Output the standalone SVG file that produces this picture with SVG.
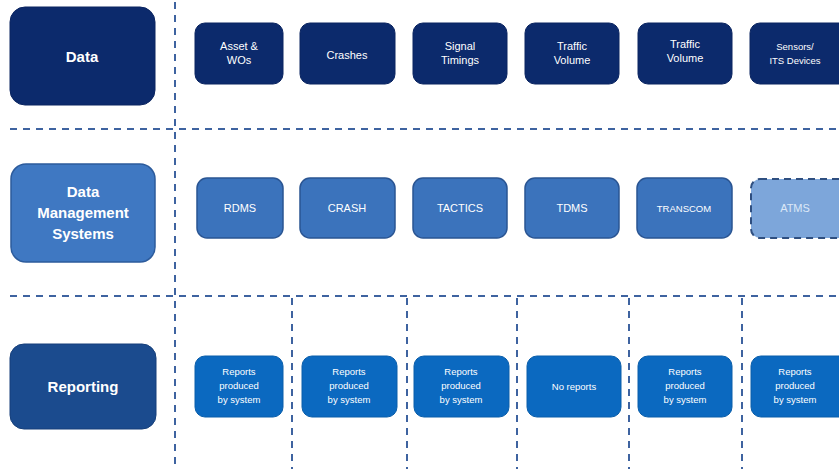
<svg xmlns="http://www.w3.org/2000/svg" width="839" height="469" viewBox="0 0 839 469">
  <style>
    .bg { fill: #ffffff; }
    .sep { stroke: #3e63a0; stroke-width: 2; stroke-dasharray: 7 6; fill: none; }
    .lbl-data { fill: #0c2a6c; stroke: #0a2460; stroke-width: 1; }
    .lbl-dms { fill: #3f78c2; stroke: #2c5b9c; stroke-width: 1.5; }
    .lbl-rep { fill: #1b4b8e; stroke: #163f7a; stroke-width: 1; }
    .n-data { fill: #0c2a6c; stroke: #0a2460; stroke-width: 1; }
    .n-dms { fill: #3b73bc; stroke: #2a5593; stroke-width: 1.5; }
    .n-dms-plan { fill: #7da6da; stroke: #2f4f80; stroke-width: 2; stroke-dasharray: 7 5; }
    .n-rep { fill: #0b69c0; stroke: #0a5eaa; stroke-width: 1; }
    text { font-family: "Liberation Sans", Arial, sans-serif; fill: #ffffff; text-anchor: middle; }
    .big { font-size: 15px; font-weight: bold; }
    .sm { font-size: 11px; }
    .xs { font-size: 9.5px; }
    .plan { fill: #dce8f7; }
  </style>
  <rect class="bg" x="0" y="0" width="839" height="469"/>

  <!-- lane separators -->
  <g id="connectors">
    <line class="sep" x1="10" y1="129" x2="839" y2="129"/>
    <line class="sep" x1="10" y1="296" x2="839" y2="296"/>
    <line class="sep" x1="175" y1="2" x2="175" y2="469"/>
    <line class="sep" x1="292" y1="298" x2="292" y2="469"/>
    <line class="sep" x1="407" y1="298" x2="407" y2="469"/>
    <line class="sep" x1="517" y1="298" x2="517" y2="469"/>
    <line class="sep" x1="629" y1="298" x2="629" y2="469"/>
    <line class="sep" x1="742" y1="298" x2="742" y2="469"/>
  </g>

  <!-- row headers -->
  <g id="hdr-data">
    <rect class="lbl-data" x="10" y="7" width="145" height="98" rx="15"/>
    <text class="big" x="82" y="62">Data</text>
  </g>
  <g id="hdr-dms">
    <rect class="lbl-dms" x="11" y="164" width="144" height="98" rx="15"/>
    <text class="big" x="83" y="197">Data</text>
    <text class="big" x="83" y="218">Management</text>
    <text class="big" x="83" y="239">Systems</text>
  </g>
  <g id="hdr-reporting">
    <rect class="lbl-rep" x="10" y="344" width="146" height="85" rx="14"/>
    <text class="big" x="83" y="392">Reporting</text>
  </g>

  <!-- data sources -->
  <g id="d-asset">
    <rect class="n-data" x="195" y="23" width="88" height="61" rx="10"/>
    <text class="sm" x="239" y="50">Asset &amp;</text>
    <text class="sm" x="239" y="64">WOs</text>
  </g>
  <g id="d-crashes">
    <rect class="n-data" x="300" y="23" width="95" height="61" rx="10"/>
    <text class="sm" x="347" y="59">Crashes</text>
  </g>
  <g id="d-signal">
    <rect class="n-data" x="413" y="23" width="94" height="61" rx="10"/>
    <text class="sm" x="460" y="50">Signal</text>
    <text class="sm" x="460" y="64">Timings</text>
  </g>
  <g id="d-volume1">
    <rect class="n-data" x="525" y="23" width="94" height="61" rx="10"/>
    <text class="sm" x="572" y="50">Traffic</text>
    <text class="sm" x="572" y="64">Volume</text>
  </g>
  <g id="d-volume2">
    <rect class="n-data" x="638" y="23" width="94" height="61" rx="10"/>
    <text class="sm" x="685" y="48">Traffic</text>
    <text class="sm" x="685" y="62">Volume</text>
  </g>
  <g id="d-sensors">
    <rect class="n-data" x="750" y="23" width="100" height="61" rx="10"/>
    <text class="xs" x="795" y="50">Sensors/</text>
    <text class="xs" x="795" y="64">ITS Devices</text>
  </g>

  <!-- data management systems -->
  <g id="s-rdms">
    <rect class="n-dms" x="197" y="178" width="86" height="60" rx="10"/>
    <text class="sm" x="240" y="212">RDMS</text>
  </g>
  <g id="s-crash">
    <rect class="n-dms" x="300" y="178" width="95" height="60" rx="10"/>
    <text class="sm" x="347" y="212">CRASH</text>
  </g>
  <g id="s-tactics">
    <rect class="n-dms" x="413" y="178" width="94" height="60" rx="10"/>
    <text class="sm" x="460" y="212">TACTICS</text>
  </g>
  <g id="s-tdms">
    <rect class="n-dms" x="525" y="178" width="94" height="60" rx="10"/>
    <text class="sm" x="572" y="212">TDMS</text>
  </g>
  <g id="s-transcom">
    <rect class="n-dms" x="637" y="178" width="95" height="60" rx="10"/>
    <text class="xs" x="684" y="212">TRANSCOM</text>
  </g>
  <g id="s-atms">
    <rect class="n-dms-plan" x="751" y="179" width="100" height="59" rx="9"/>
    <text class="sm plan" x="795" y="212">ATMS</text>
  </g>

  <!-- reporting -->
  <g id="r-1">
    <rect class="n-rep" x="195" y="356" width="88" height="61" rx="10"/>
    <text class="xs" x="239" y="375">Reports</text>
    <text class="xs" x="239" y="389">produced</text>
    <text class="xs" x="239" y="403">by system</text>
  </g>
  <g id="r-2">
    <rect class="n-rep" x="302" y="356" width="95" height="61" rx="10"/>
    <text class="xs" x="349" y="375">Reports</text>
    <text class="xs" x="349" y="389">produced</text>
    <text class="xs" x="349" y="403">by system</text>
  </g>
  <g id="r-3">
    <rect class="n-rep" x="414" y="356" width="95" height="61" rx="10"/>
    <text class="xs" x="461" y="375">Reports</text>
    <text class="xs" x="461" y="389">produced</text>
    <text class="xs" x="461" y="403">by system</text>
  </g>
  <g id="r-4">
    <rect class="n-rep" x="527" y="356" width="94" height="61" rx="10"/>
    <text class="xs" x="574" y="390">No reports</text>
  </g>
  <g id="r-5">
    <rect class="n-rep" x="638" y="356" width="94" height="61" rx="10"/>
    <text class="xs" x="685" y="375">Reports</text>
    <text class="xs" x="685" y="389">produced</text>
    <text class="xs" x="685" y="403">by system</text>
  </g>
  <g id="r-6">
    <rect class="n-rep" x="751" y="356" width="100" height="61" rx="10"/>
    <text class="xs" x="795" y="375">Reports</text>
    <text class="xs" x="795" y="389">produced</text>
    <text class="xs" x="795" y="403">by system</text>
  </g>
</svg>
